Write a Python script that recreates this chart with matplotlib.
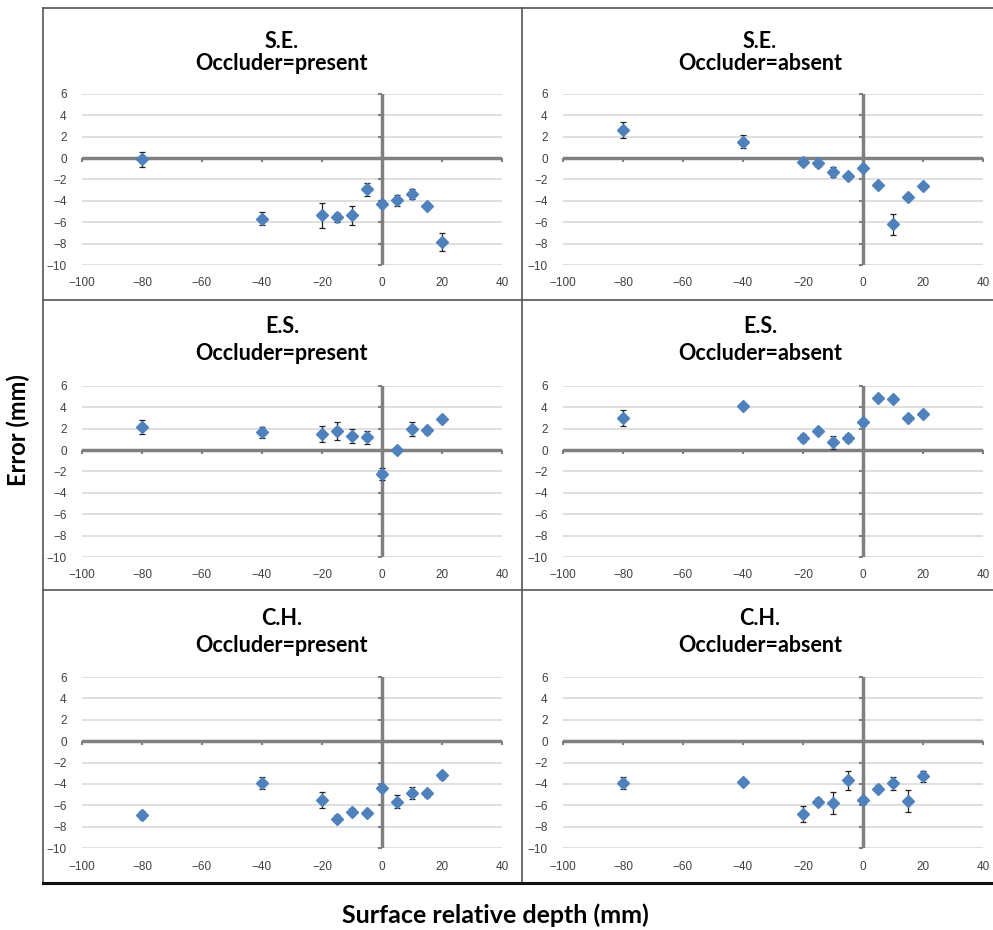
import numpy as np
import matplotlib.pyplot as plt
from matplotlib.lines import Line2D

# depth conditions (mm)
depth = [-80, -40, -20, -15, -10, -5, 0, 5, 10, 15, 20]

# mean error (mm) and error bar half-widths
se_present = [-0.1, -5.65, -5.35, -5.55, -5.35, -2.9, -4.25, -3.95, -3.35, -4.5, -7.85]
se_present_err = [0.7, 0.65, 1.15, 0.4, 0.9, 0.6, 0.3, 0.5, 0.5, 0.2, 0.8]
se_absent = [2.6, 1.55, -0.4, -0.5, -1.3, -1.7, -0.9, -2.5, -6.2, -3.65, -2.65]
se_absent_err = [0.75, 0.6, 0.25, 0.3, 0.5, 0.3, 0.3, 0.25, 0.95, 0.3, 0.25]

es_present = [2.15, 1.65, 1.5, 1.8, 1.3, 1.2, -2.2, 0.0, 1.95, 1.85, 2.9]
es_present_err = [0.65, 0.55, 0.75, 0.85, 0.65, 0.6, 0.55, 0.2, 0.65, 0.3, 0.25]
es_absent = [3.0, 4.15, 1.15, 1.8, 0.75, 1.15, 2.6, 4.85, 4.8, 3.05, 3.4]
es_absent_err = [0.73, 0.3, 0.4, 0.3, 0.6, 0.4, 0.3, 0.25, 0.3, 0.25, 0.3]

ch_present = [-6.9, -3.95, -5.5, -7.25, -6.6, -6.75, -4.4, -5.65, -4.85, -4.9, -3.2]
ch_present_err = [0.35, 0.55, 0.73, 0.3, 0.3, 0.25, 0.3, 0.6, 0.55, 0.35, 0.3]
ch_absent = [-3.95, -3.85, -6.8, -5.65, -5.8, -3.65, -5.55, -4.45, -3.95, -5.6, -3.3]
ch_absent_err = [0.55, 0.3, 0.75, 0.35, 1.05, 0.9, 0.3, 0.35, 0.6, 1.0, 0.55]

subjects = ["S.E.", "E.S.", "C.H."]
conditions = ["Occluder=present", "Occluder=absent"]
panels = [
    [(se_present, se_present_err), (se_absent, se_absent_err)],
    [(es_present, es_present_err), (es_absent, es_absent_err)],
    [(ch_present, ch_present_err), (ch_absent, ch_absent_err)],
]

xticks = np.arange(-100, 41, 20)
yticks = np.arange(-10, 7, 2)

W, H = 993, 930
fig = plt.figure(figsize=(W / 100, H / 100), dpi=100)

col_left = [82, 563]
ax_w = 420
row_top = [94, 386, 677]
ax_h = 171
title_y = [(42, 63), (326, 354), (618, 646)]
cell_cx = [282, 760]

blue = "#4F81BD"
axis_gray = "#808080"

for r in range(3):
    for c in range(2):
        vals, errs = panels[r][c]
        left = col_left[c] / W
        bottom = 1 - (row_top[r] + ax_h) / H
        ax = fig.add_axes([left, bottom, ax_w / W, ax_h / H])
        ax.set_xlim(-100, 40)
        ax.set_ylim(-10, 6)
        ax.set_xticks(xticks)
        ax.set_yticks(yticks)
        for s in ax.spines.values():
            s.set_visible(False)
        ax.tick_params(length=0, labelsize=8.5, labelcolor="#404040")
        ax.tick_params(axis="x", pad=9)
        ax.tick_params(axis="y", pad=11)
        for lab in ax.get_xticklabels() + ax.get_yticklabels():
            lab.set_family("Liberation Sans")
        ax.yaxis.grid(True, color="#D9D9D9", linewidth=1.2)
        ax.set_axisbelow(True)

        # axes through the origin, Excel style
        ax.axhline(0, color=axis_gray, linewidth=2.5, zorder=1)
        ax.axvline(0, color=axis_gray, linewidth=2.5, zorder=1)
        ax.plot(np.zeros(len(yticks)), yticks, linestyle="none", marker=0,
                markersize=3, color=axis_gray, mew=1.5, zorder=1, clip_on=False)
        ax.plot(xticks, np.zeros(len(xticks)), linestyle="none", marker=3,
                markersize=3, color=axis_gray, mew=1.5, zorder=1, clip_on=False)

        ax.errorbar(depth, vals, yerr=errs, fmt="D", color=blue, markersize=6.3,
                    ecolor="#222222", elinewidth=0.9, capsize=2.5, capthick=0.9,
                    zorder=3)

        fig.text(cell_cx[c] / W, 1 - title_y[r][0] / H, subjects[r],
                 ha="center", va="center", fontsize=15.5, fontweight="bold",
                 family="Lato")
        fig.text(cell_cx[c] / W, 1 - title_y[r][1] / H, conditions[c],
                 ha="center", va="center", fontsize=15.5, fontweight="bold",
                 family="Lato")

# outer frame and cell dividers
def fline(x0, y0, x1, y1, lw=1.2, color="#555555"):
    fig.add_artist(Line2D([x0 / W, x1 / W], [1 - y0 / H, 1 - y1 / H],
                          color=color, linewidth=lw, transform=fig.transFigure))

fline(43, 8, 993, 8)
fline(43, 8, 43, 883)
fline(522, 8, 522, 883)
fline(43, 300, 993, 300)
fline(43, 590, 993, 590)
fline(43, 883, 993, 883, lw=2.2, color="#111111")

fig.text(18 / W, 1 - 430 / H, "Error (mm)", rotation=90, ha="center",
         va="center", fontsize=17, fontweight="bold", family="Lato")
fig.text(495 / W, 1 - 915 / H, "Surface relative depth (mm)", ha="center",
         va="center", fontsize=18, fontweight="bold", family="Lato")

fig.savefig("out.png", dpi=100)
